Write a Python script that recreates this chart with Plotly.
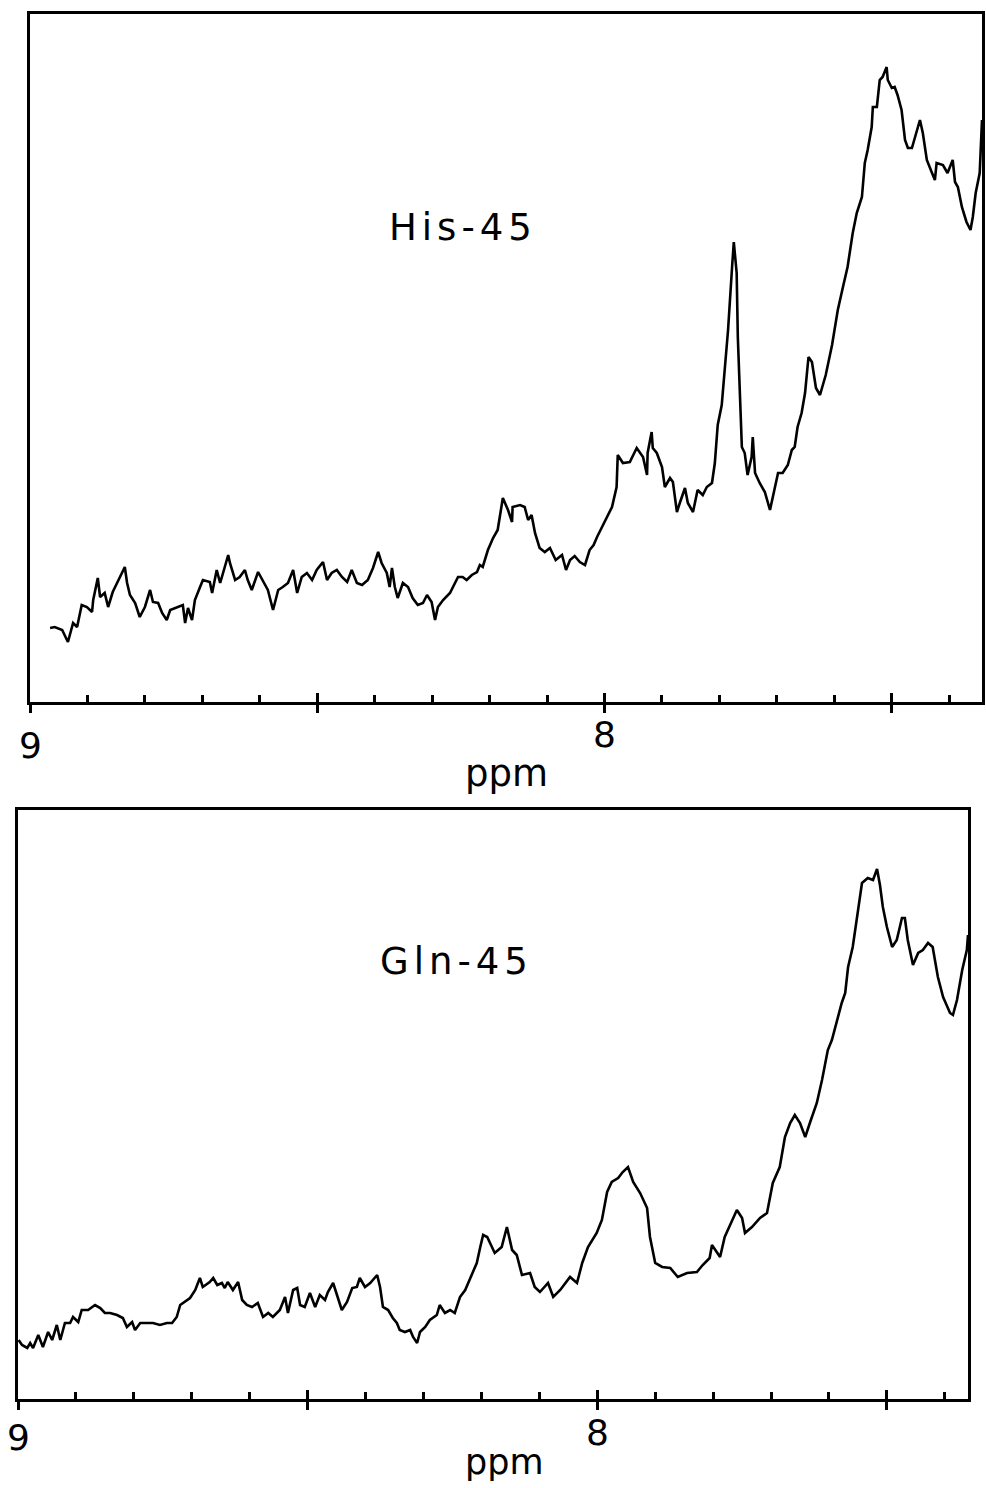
import plotly.graph_objects as go

# ---------------- data (ppm, intensity in arbitrary units) ----------------
his_ppm = [8.965, 8.957, 8.944, 8.934, 8.925, 8.918, 8.910, 8.901, 8.892, 8.890, 8.882, 8.878, 8.870, 8.864,
           8.856, 8.843, 8.835, 8.831, 8.826, 8.817, 8.809, 8.800, 8.791, 8.786, 8.777, 8.770, 8.762, 8.756,
           8.744, 8.734, 8.730, 8.725, 8.718, 8.713, 8.704, 8.699, 8.687, 8.683, 8.675, 8.669, 8.664, 8.655,
           8.652, 8.643, 8.635, 8.626, 8.621, 8.614, 8.603, 8.595, 8.586, 8.577, 8.568, 8.560, 8.551, 8.542,
           8.535, 8.527, 8.518, 8.509, 8.501, 8.490, 8.483, 8.475, 8.466, 8.457, 8.448, 8.440, 8.431, 8.422,
           8.412, 8.403, 8.394, 8.388, 8.379, 8.374, 8.370, 8.365, 8.360, 8.351, 8.342, 8.334, 8.325, 8.316,
           8.309, 8.301, 8.295, 8.290, 8.281, 8.269, 8.255, 8.247, 8.240, 8.231, 8.222, 8.217, 8.212, 8.203,
           8.194, 8.186, 8.177, 8.168, 8.161, 8.160, 8.147, 8.139, 8.133, 8.127, 8.121, 8.113, 8.104, 8.095,
           8.085, 8.074, 8.067, 8.060, 8.052, 8.043, 8.034, 8.026, 8.019, 8.013, 7.999, 7.987, 7.979, 7.977,
           7.968, 7.956, 7.944, 7.933, 7.926, 7.925, 7.918, 7.916, 7.909, 7.900, 7.895, 7.886, 7.881, 7.874,
           7.869, 7.860, 7.855, 7.846, 7.838, 7.829, 7.822, 7.813, 7.808, 7.803, 7.796, 7.791, 7.785, 7.778,
           7.775, 7.770, 7.768, 7.761, 7.756, 7.751, 7.744, 7.742, 7.738, 7.730, 7.721, 7.712, 7.704, 7.698,
           7.690, 7.681, 7.674, 7.669, 7.664, 7.657, 7.651, 7.645, 7.639, 7.632, 7.625, 7.615, 7.604, 7.594,
           7.585, 7.577, 7.568, 7.561, 7.552, 7.547, 7.542, 7.535, 7.533, 7.526, 7.521, 7.516, 7.509, 7.507,
           7.500, 7.495, 7.490, 7.483, 7.477, 7.472, 7.465, 7.460, 7.451, 7.446, 7.439, 7.430, 7.425, 7.422,
           7.411, 7.403, 7.394, 7.390, 7.385, 7.378, 7.370, 7.363, 7.359, 7.354, 7.347, 7.343]
his_int = [74, 75, 72, 60, 79, 75, 97, 95, 90, 102, 124, 105, 109, 95,
           110, 125, 135, 119, 107, 99, 85, 95, 112, 100, 99, 89, 82, 92,
           95, 97, 79, 94, 82, 102, 115, 122, 120, 109, 132, 119, 129, 147,
           139, 122, 125, 132, 122, 112, 130, 122, 112, 92, 112, 115, 119, 132,
           109, 125, 129, 122, 132, 140, 122, 129, 132, 125, 120, 132, 119, 117,
           122, 134, 150, 139, 129, 115, 134, 115, 104, 119, 115, 104, 97, 99,
           107, 100, 82, 95, 102, 109, 125, 125, 122, 127, 130, 137, 135, 152,
           164, 172, 204, 192, 180, 195, 197, 195, 182, 187, 169, 154, 150, 154,
           142, 147, 132, 142, 146, 140, 137, 152, 157, 165, 182, 195, 215, 247,
           239, 240, 254, 245, 227, 249, 270, 254, 249, 235, 215, 224, 220, 190,
           199, 214, 199, 190, 212, 207, 215, 219, 239, 277, 297, 332, 372, 435,
           460, 429, 365, 255, 249, 227, 245, 265, 229, 219, 210, 192, 215, 229,
           229, 237, 252, 255, 275, 289, 309, 345, 340, 314, 307, 327, 357, 392,
           415, 435, 469, 489, 505, 539, 552, 575, 595, 595, 622, 625, 635, 622,
           614, 615, 607, 592, 562, 554, 554, 565, 582, 569, 542, 529, 522, 539,
           537, 529, 542, 520, 515, 495, 480, 472, 485, 509, 529, 582]

gln_ppm = [8.999, 8.993, 8.984, 8.979, 8.974, 8.965, 8.957, 8.948, 8.941, 8.933, 8.927, 8.919, 8.910, 8.905,
           8.896, 8.890, 8.879, 8.867, 8.858, 8.850, 8.841, 8.829, 8.819, 8.812, 8.803, 8.798, 8.789, 8.777,
           8.767, 8.755, 8.743, 8.734, 8.726, 8.720, 8.712, 8.703, 8.694, 8.686, 8.681, 8.669, 8.663, 8.656,
           8.648, 8.643, 8.638, 8.629, 8.620, 8.613, 8.605, 8.596, 8.586, 8.577, 8.568, 8.560, 8.548, 8.539,
           8.534, 8.525, 8.518, 8.513, 8.505, 8.496, 8.487, 8.479, 8.470, 8.465, 8.456, 8.448, 8.441, 8.432,
           8.423, 8.415, 8.410, 8.401, 8.392, 8.380, 8.375, 8.370, 8.361, 8.353, 8.346, 8.341, 8.332, 8.323,
           8.318, 8.311, 8.306, 8.297, 8.289, 8.277, 8.272, 8.263, 8.254, 8.246, 8.237, 8.228, 8.223, 8.216,
           8.208, 8.202, 8.197, 8.190, 8.177, 8.165, 8.156, 8.147, 8.139, 8.130, 8.116, 8.108, 8.099, 8.085,
           8.076, 8.064, 8.047, 8.035, 8.026, 8.016, 8.001, 7.992, 7.983, 7.975, 7.964, 7.956, 7.947, 7.938,
           7.926, 7.914, 7.909, 7.900, 7.888, 7.874, 7.861, 7.845, 7.828, 7.818, 7.806, 7.802, 7.788, 7.780,
           7.768, 7.759, 7.750, 7.745, 7.733, 7.719, 7.707, 7.697, 7.685, 7.676, 7.667, 7.659, 7.650, 7.641,
           7.633, 7.621, 7.612, 7.602, 7.595, 7.586, 7.578, 7.572, 7.567, 7.559, 7.552, 7.543, 7.533, 7.524,
           7.517, 7.512, 7.507, 7.500, 7.491, 7.483, 7.474, 7.469, 7.464, 7.455, 7.446, 7.438, 7.429, 7.421,
           7.412, 7.403, 7.391, 7.386, 7.379, 7.370, 7.362, 7.360]
gln_int = [59, 54, 51, 56, 51, 64, 52, 67, 59, 74, 59, 76, 76, 82,
           77, 89, 89, 94, 91, 86, 86, 84, 81, 72, 77, 69, 76, 76,
           76, 74, 76, 76, 82, 94, 97, 101, 109, 121, 112, 117, 121, 114,
           116, 111, 117, 109, 117, 99, 94, 92, 96, 82, 86, 82, 89, 102,
           86, 109, 111, 94, 92, 106, 92, 104, 99, 107, 116, 102, 89, 97,
           111, 112, 121, 112, 116, 124, 112, 92, 89, 81, 76, 69, 67, 69,
           62, 56, 67, 72, 79, 84, 94, 86, 89, 86, 102, 109, 116, 126,
           136, 152, 164, 162, 146, 152, 172, 149, 144, 124, 126, 112, 107, 116,
           102, 109, 122, 116, 136, 152, 166, 179, 207, 217, 221, 227, 232, 217,
           206, 191, 162, 136, 132, 131, 122, 126, 127, 134, 141, 154, 142, 162,
           177, 189, 181, 166, 172, 181, 186, 216, 232, 262, 276, 284, 276, 262,
           276, 296, 319, 349, 359, 379, 396, 406, 432, 452, 482, 516, 521, 519,
           530, 514, 492, 472, 452, 459, 481, 481, 459, 434, 446, 449, 456, 452,
           422, 402, 386, 384, 399, 429, 449, 464]

panel_labels = ["His-45", "Gln-45"]
tick_labels = ["9", "8"]
major_ticks = [9.0, 8.5, 8.0, 7.5]
axis_title = "ppm"

# ---------------- figure ----------------
W, H = 986, 1488
FONT = "DejaVu Sans"
fig = go.Figure()

fig.add_trace(go.Scatter(x=his_ppm, y=his_int, mode="lines", xaxis="x", yaxis="y",
                         line=dict(color="black", width=2.6), showlegend=False, hoverinfo="skip"))
fig.add_trace(go.Scatter(x=gln_ppm, y=gln_int, mode="lines", xaxis="x2", yaxis="y2",
                         line=dict(color="black", width=2.6), showlegend=False, hoverinfo="skip"))
# empty traces to host overlay axes carrying the outward half of the major ticks
fig.add_trace(go.Scatter(x=[], y=[], xaxis="x3", yaxis="y", showlegend=False))
fig.add_trace(go.Scatter(x=[], y=[], xaxis="x4", yaxis="y2", showlegend=False))

top_range = [9.0, 7.343]
bot_range = [9.0, 7.360]
top_dom = [30 / W, 982 / W]
bot_dom = [18 / W, 968 / W]

def main_x(rng, dom, anchor):
    return dict(domain=dom, range=rng, autorange=False, anchor=anchor,
                showline=True, linecolor="black", linewidth=3, mirror=True,
                showgrid=False, zeroline=False, showticklabels=False,
                tickmode="array", tickvals=major_ticks, ticks="inside",
                ticklen=9, tickwidth=3, tickcolor="black",
                minor=dict(tick0=9.0, dtick=0.1, ticks="inside", ticklen=7,
                           tickwidth=2.5, tickcolor="black", showgrid=False))

def overlay_x(rng, dom, anchor, over):
    return dict(domain=dom, range=rng, autorange=False, anchor=anchor, overlaying=over,
                showline=False, showgrid=False, zeroline=False, showticklabels=False,
                tickmode="array", tickvals=major_ticks, ticks="outside",
                ticklen=10, tickwidth=3, tickcolor="black")

def main_y(rng, dom, anchor):
    return dict(domain=dom, range=rng, autorange=False, anchor=anchor,
                showline=True, linecolor="black", linewidth=3, mirror=True,
                showgrid=False, zeroline=False, showticklabels=False, ticks="")

fig.update_layout(
    width=W, height=H,
    margin=dict(l=0, r=0, t=0, b=0),
    paper_bgcolor="white", plot_bgcolor="white",
    font=dict(family=FONT, color="black", size=36),
    xaxis=main_x(top_range, top_dom, "y"),
    yaxis=main_y([0, 688], [1 - 702 / H, 1 - 14 / H], "x"),
    xaxis2=main_x(bot_range, bot_dom, "y2"),
    yaxis2=main_y([0, 589], [1 - 1399 / H, 1 - 810 / H], "x2"),
    xaxis3=overlay_x(top_range, top_dom, "y", "x"),
    xaxis4=overlay_x(bot_range, bot_dom, "y2", "x2"),
)

ann = []
# panel labels
for lab, (px, py) in zip(panel_labels, [(463, 227), (456, 961)]):
    ann.append(dict(text='<span style="letter-spacing:5px">' + lab + '</span>',
                    x=px / W, y=1 - py / H, xref="paper", yref="paper",
                    xanchor="center", yanchor="middle",
                    showarrow=False, font=dict(size=37, family=FONT)))
# tick labels (placed at data x positions)
for xa, ys in (("x", (745, 735)), ("x2", (1437, 1432))):
    for val, lab, yy in zip([9.0, 8.0], tick_labels, ys):
        ann.append(dict(text=lab, x=val, xref=xa, y=1 - yy / H, yref="paper",
                        xanchor="center", yanchor="middle",
                        showarrow=False, font=dict(size=36, family=FONT)))
# axis titles
for px, py, fs in [(506, 773, 37), (504, 1462, 35)]:
    ann.append(dict(text=axis_title, x=px / W, y=1 - py / H, xref="paper", yref="paper",
                    xanchor="center", yanchor="middle",
                    showarrow=False, font=dict(size=fs, family=FONT)))
fig.update_layout(annotations=ann)

fig.write_html("out.html", config={"displayModeBar": False},
               post_script="document.body.style.margin='0px';document.body.style.overflow='hidden';")
